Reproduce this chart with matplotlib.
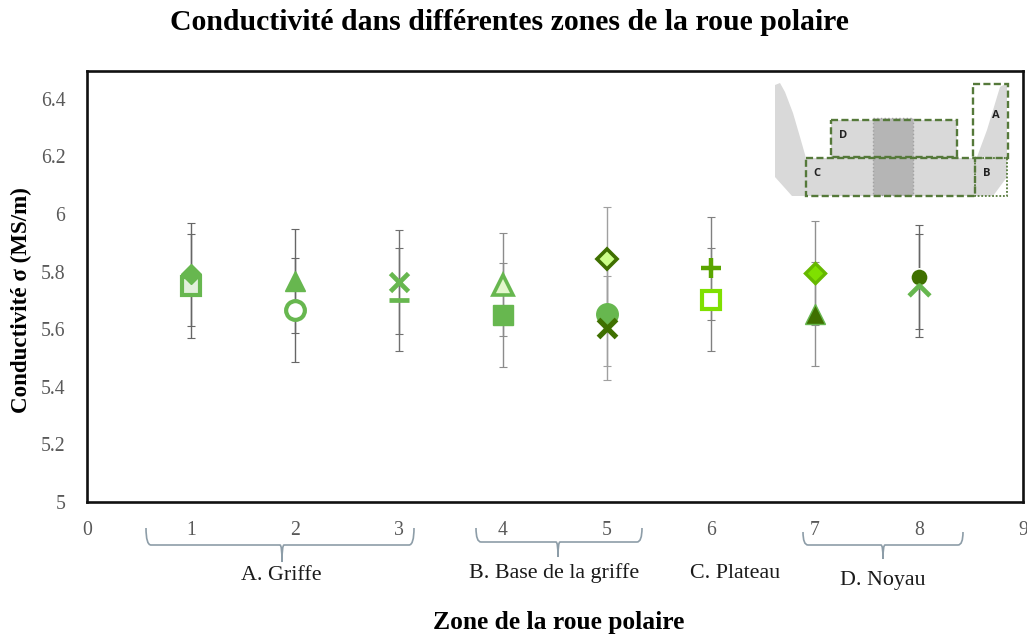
import matplotlib
matplotlib.use('Agg')
import matplotlib.pyplot as plt
from matplotlib.patches import PathPatch, Polygon, Rectangle
from matplotlib.path import Path

plt.rcParams['font.family'] = ['Liberation Serif', 'DejaVu Serif']

GREEN = '#67b74f'
DARK = '#3f7000'
LIME = '#7fe000'
MID = '#5aa500'

# one entry per series, drawn in this order
zones = [1, 1, 2, 2, 3, 3, 4, 4, 5, 5, 5, 6, 6, 7, 7, 8, 8]
sigma = [5.75, 5.79, 5.768, 5.667, 5.763, 5.703, 5.755, 5.65, 5.843, 5.652, 5.603,
         5.811, 5.703, 5.794, 5.652, 5.782, 5.752]
sigma_err = [0.18] * 17
bar_colors = ['#666666', '#666666', '#666666', '#666666', '#707070', '#707070', '#8c8c8c', '#8c8c8c',
              '#a0a0a0', '#a0a0a0', '#a0a0a0', '#808080', '#808080', '#909090', '#909090', '#666666', '#666666']

chevron = Path([(-1, -1), (0, 0), (1, -1)])
markers = ['s', 'D', '^', 'o', 'x', '_', '^', 's', 'D', 'o', 'x', '+', 's', 'D', '^', 'o', chevron]
faces = ['#e2f0dc', GREEN, GREEN, 'white', GREEN, GREEN, '#e3f7cc', GREEN, '#ccff88', GREEN, DARK,
         MID, 'white', LIME, DARK, DARK, 'none']
edges = [GREEN, GREEN, GREEN, GREEN, GREEN, GREEN, GREEN, GREEN, DARK, GREEN, DARK,
         MID, LIME, '#66b800', GREEN, 'white', GREEN]
sizes = [13, 10, 15, 13.5, 12.5, 15, 14, 15, 10, 15.5, 13, 14, 13, 10.5, 14, 12.5, 15]
edge_w = [3, 1, 1, 3, 3.4, 3.4, 2.6, 1, 2.6, 1, 3.8, 3.2, 3, 2.4, 1, 1.2, 3.4]

y_ticks = [5, 5.2, 5.4, 5.6, 5.8, 6, 6.2, 6.4]
y_tick_labels = ['5', '5.2', '5.4', '5.6', '5.8', '6', '6.2', '6.4']
x_ticks = [0, 1, 2, 3, 4, 5, 6, 7, 8, 9]

# zone groups below the axis : left, right, middle, top, bottom, tip (pixels)
braces = [(146, 414, 282, 528, 545, 562),
          (476, 642, 558, 528, 542, 557),
          (803, 963, 883, 532, 545, 559)]
group_labels = ['A. Griffe', 'B. Base de la griffe', 'C. Plateau', 'D. Noyau']
group_x = [281, 554, 735, 883]
group_y = [575, 573, 574, 580]

# wheel sketch, pixels of the figure
horn_left = [(775, 85), (780, 83), (785, 92), (793, 113), (800, 137), (806, 158), (806, 196), (792, 196), (775, 177)]
horn_right = [(977, 157), (987, 130), (1000, 87), (1007, 83), (1007, 158)]
base_right = [(975, 158), (1007, 158), (1007, 177), (993, 196), (975, 196)]
rect_c = (806, 158, 169, 38)
rect_d = (831, 120, 126, 37)
rect_band = (873, 118, 40, 77)
rect_a = (973, 84, 35, 74)
rect_b = (975, 158, 32, 38)
sketch_letters = ['A', 'B', 'C', 'D']
letters_x = [996, 987, 817, 843]
letters_y = [116, 173, 174, 135]

fig = plt.figure(figsize=(10.27, 6.34), dpi=100)
ax = fig.add_axes([87 / 1027, 1 - 502 / 634, 936 / 1027, 431 / 634])

for i in range(len(zones)):
    ax.errorbar(zones[i], sigma[i], yerr=sigma_err[i], color=bar_colors[i], lw=1.0,
                capsize=3.2, capthick=0.8, zorder=2)
for i in range(len(zones)):
    ax.plot(zones[i], sigma[i], marker=markers[i], ms=sizes[i], mfc=faces[i], mec=edges[i],
            mew=edge_w[i], ls='none', zorder=3)

ax.set_xlim(0, 9)
ax.set_ylim(5, 5 + 431 / 288)
ax.set_xticks(x_ticks)
ax.set_yticks(y_ticks)
ax.set_yticklabels(y_tick_labels)
ax.tick_params(length=0, labelsize=14.2, labelcolor='#595959')
ax.tick_params(axis='y', pad=15.5)
ax.tick_params(axis='x', pad=14)
for s in ax.spines.values():
    s.set_linewidth(1.9)
    s.set_color('#111111')

# overlay in figure pixels for sketch, braces and labels
ov = fig.add_axes([0, 0, 1, 1], facecolor='none')
ov.set_xlim(0, 1027)
ov.set_ylim(634, 0)
ov.axis('off')

for pts in (horn_left, horn_right, base_right):
    ov.add_patch(Polygon(pts, closed=True, fc='#d9d9d9', ec='none', zorder=1))
ov.add_patch(Rectangle(rect_c[:2], rect_c[2], rect_c[3], fc='#d9d9d9', ec='none', zorder=1))
ov.add_patch(Rectangle(rect_d[:2], rect_d[2], rect_d[3], fc='#d9d9d9', ec='none', zorder=1))
ov.add_patch(Rectangle(rect_band[:2], rect_band[2], rect_band[3], fc='#b5b5b5', ec='#a0a0a0',
                       ls=':', lw=1, zorder=2))
for r in (rect_c, rect_d, rect_a):
    ov.add_patch(Rectangle(r[:2], r[2], r[3], fc='none', ec='#55793a', ls=(0, (3, 1.4)), lw=1.7, zorder=3))
ov.add_patch(Rectangle(rect_b[:2], rect_b[2], rect_b[3], fc='none', ec='#55793a', ls=(0, (1, 1)), lw=1.3, zorder=3))
for i in range(len(sketch_letters)):
    ov.text(letters_x[i], letters_y[i], sketch_letters[i], family='Open Sans', weight='bold', fontsize=8,
            color='#222222', ha='center', va='center', zorder=4)

for left, right, mid, top, bottom, tip in braces:
    verts = [(left, top), (left, bottom), (left + 5, bottom), (mid - 2, bottom), (mid, bottom), (mid, tip),
             (mid, bottom), (mid + 2, bottom), (right - 5, bottom), (right, bottom), (right, top)]
    codes = [Path.MOVETO, Path.CURVE3, Path.CURVE3, Path.LINETO, Path.CURVE3, Path.CURVE3,
             Path.CURVE3, Path.CURVE3, Path.LINETO, Path.CURVE3, Path.CURVE3]
    ov.add_patch(PathPatch(Path(verts, codes), fc='none', ec='#8d9da8', lw=1.2))

for i in range(len(group_labels)):
    ov.text(group_x[i], group_y[i], group_labels[i], fontsize=15.8, color='#1a1a1a', ha='center', va='center')

ov.text(509, 23, 'Conductivité dans différentes zones de la roue polaire', fontsize=21.4, weight='bold',
        ha='center', va='center', color='black')
ov.text(559, 622, 'Zone de la roue polaire', fontsize=18.4, weight='bold', ha='center', va='center', color='black')
ov.text(21, 300, 'Conductivité σ (MS/m)', fontsize=16.6, weight='bold', rotation=90, ha='center', va='center',
        color='black')

fig.savefig('out.png', dpi=100)
